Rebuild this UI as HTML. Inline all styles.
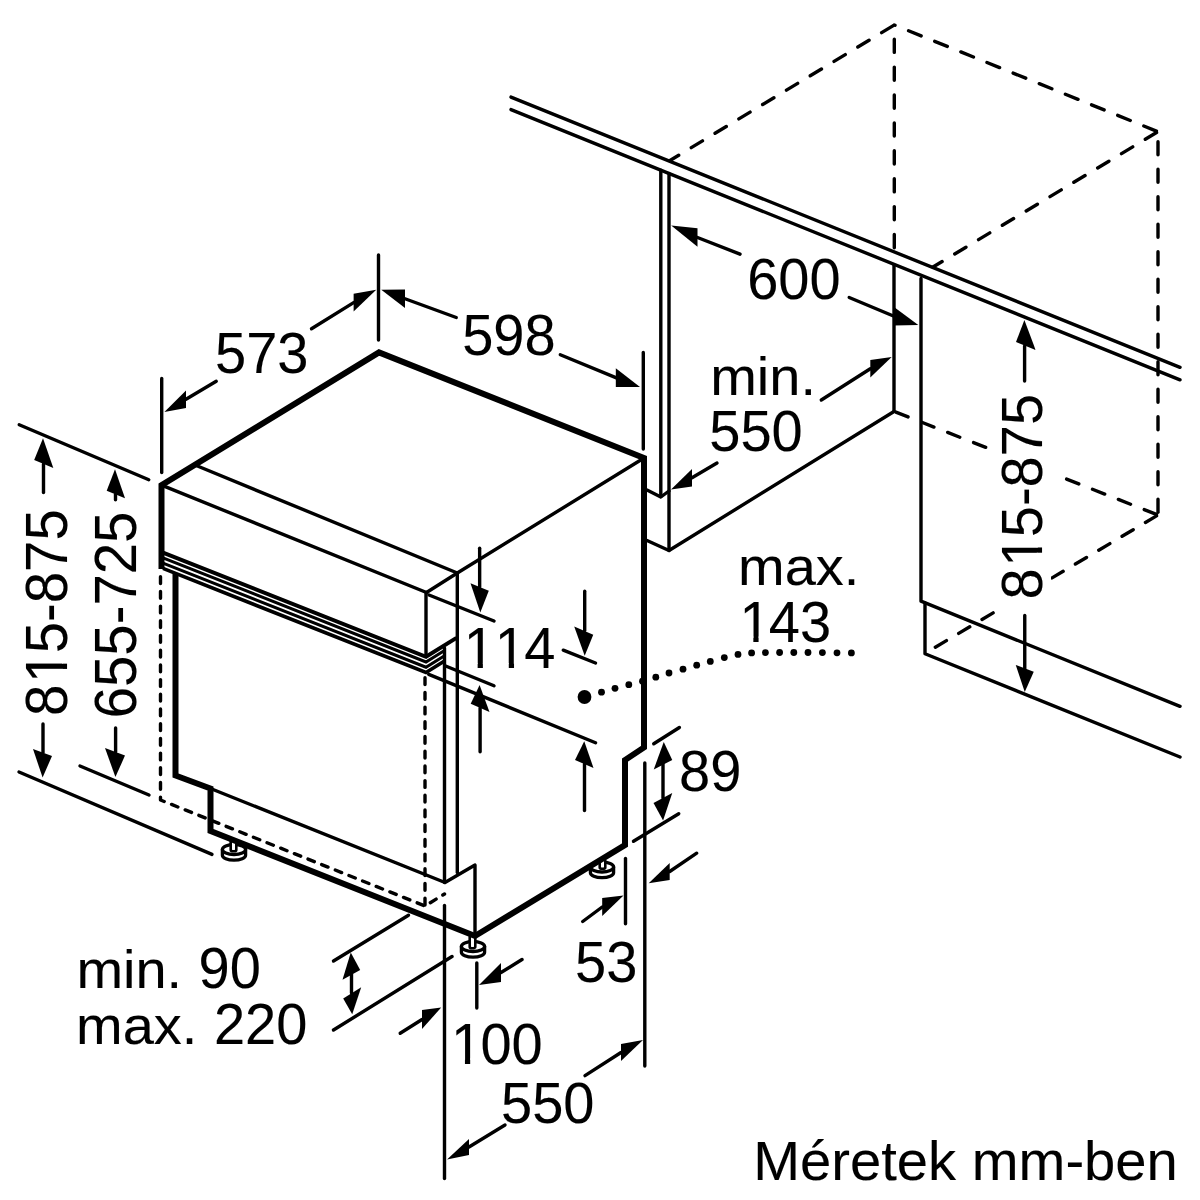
<!DOCTYPE html>
<html lang="hu">
<head>
<meta charset="utf-8">
<title>Méretek mm-ben</title>
<style>
html,body{margin:0;padding:0;background:#fff;}
body{width:1200px;height:1200px;overflow:hidden;}
svg{display:block;}
svg .f{fill:#000;stroke:none;}
svg text{fill:#000;stroke:#000;stroke-width:0.1px;font-kerning:none;}
</style>
</head>
<body>
<svg width="1200" height="1200" viewBox="0 0 1200 1200">
<rect width="1200" height="1200" fill="#fff"/>
<g fill="none" stroke="#000" stroke-width="3.4" stroke-linecap="round" font-family="'Liberation Sans', Arial, Helvetica, sans-serif" font-size="56">
<!-- countertop -->
<path d="M511 97.08 L1180 367.36"/>
<path d="M511 109.58 L1180 379.86"/>
<!-- dashed niche box -->
<path d="M894.3 25 L670 160.5" stroke-dasharray="13.1 14.7" stroke-dashoffset="26.1" stroke-linejoin="round"/>
<path d="M1158 131.7 L894.3 25" stroke-dasharray="13.6 14.6" stroke-dashoffset="26.5" stroke-linejoin="round"/>
<path d="M894.3 25 L894.3 250" stroke-dasharray="13.2 14.7" stroke-dashoffset="13.7" stroke-linejoin="round"/>
<path d="M1158 131.7 L1158 515" stroke-dasharray="13.1 14.4" stroke-dashoffset="17.5" stroke-linejoin="round"/>
<path d="M1158 131.7 L933 267" stroke-dasharray="13.1 14.7" stroke-dashoffset="26.1" stroke-linejoin="round"/>
<path d="M894.3 411.5 L995 451" stroke-dasharray="13.1 14.7" stroke-dashoffset="26.1" stroke-linejoin="round"/>
<path d="M1158 515 L1060 476.5" stroke-dasharray="13.1 14.7" stroke-dashoffset="26.1" stroke-linejoin="round"/>
<path d="M1158 515 L934 648" stroke-dasharray="12.9 14.25" stroke-dashoffset="25.45" stroke-linejoin="round"/>
<!-- cabinet -->
<path d="M660.8 170.1 L660.8 496.5"/>
<path d="M669 173.42 L669 550.5"/>
<path d="M647 490 L660.8 497 L669 491" stroke-linejoin="round"/>
<path d="M647 540.5 L669 550.5 L894 411.5" stroke-linejoin="round"/>
<path d="M894 265 L894 411.5" stroke-linecap="butt"/>
<path d="M921 278.5 L921 601.2 L1180 706.3" stroke-linejoin="round"/>
<path d="M925 603 L925 653.75 L1180 757" stroke-linejoin="round"/>
<!-- feet -->
<path d="M222.4 849.5 v5.7 a11.6 5 0 0 0 23.2 0 v-5.7" fill="#fff" stroke-width="3.3"/>
<ellipse cx="234" cy="849.5" rx="11.6" ry="5" fill="#fff" stroke-width="3.3"/>
<path d="M230.7 841 V849.9 a2.8 1.4 0 0 0 5.6 0 V841" fill="#fff" stroke-width="2.6"/>
<path d="M461.4 946.5 v5.7 a11.6 5 0 0 0 23.2 0 v-5.7" fill="#fff" stroke-width="3.3"/>
<ellipse cx="473" cy="946.5" rx="11.6" ry="5" fill="#fff" stroke-width="3.3"/>
<path d="M469.7 937 V946.9 a2.8 1.4 0 0 0 5.6 0 V937" fill="#fff" stroke-width="2.6"/>
<path d="M590.4 867 v5.7 a11.6 5 0 0 0 23.2 0 v-5.7" fill="#fff" stroke-width="3.3"/>
<ellipse cx="602" cy="867" rx="11.6" ry="5" fill="#fff" stroke-width="3.3"/>
<path d="M599.7 861 V867.4 a2.8 1.4 0 0 0 5.6 0 V861" fill="#fff" stroke-width="2.6"/>
<!-- appliance -->
<path d="M161.5 569 L161.5 485.1 L379 352.4 L644 458 L644 747.5 L625 760 L625 845 L475 936 L210.5 831 L210.5 788.5 L175.5 775.5 L175.5 574" stroke-width="6" stroke-linecap="butt"/>
<path d="M161.5 485.1 L426.5 592.5"/>
<path d="M195 465 L457.3 573"/>
<path d="M426.5 592.5 L457.3 573 L644 458" stroke-linejoin="round"/>
<path d="M426 592.5 L426 656"/>
<path d="M457.3 573 L457.3 872.5"/>
<path d="M444.5 648 L444.5 882.5"/>
<path d="M444.5 905.5 L444.5 1178.5"/>
<path d="M210.5 788.5 L445 882.5 L475 865 L475 936" stroke-linejoin="round"/>
<path d="M163 552.6 L426 656.75 L456.5 637.84" stroke-width="4" stroke-linecap="butt"/>
<path d="M163 557.85 L426 662 L444.5 650.53" stroke-width="3.1" stroke-linecap="butt"/>
<path d="M163 563.1 L426 667.25 L444.5 655.78" stroke-width="3.1" stroke-linecap="butt"/>
<path d="M163 568.35 L426 672.5 L444.5 661.03" stroke-width="3.7" stroke-linecap="butt"/>
<!-- dashed door outline -->
<path d="M160.5 575 L160.5 800 L425 906 L444.5 894" stroke-dasharray="6.8 7.9" stroke-dashoffset="13" stroke-linejoin="round"/>
<path d="M425 676 L425 906" stroke-dasharray="6.8 7.9" stroke-dashoffset="13" stroke-linejoin="round"/>
<!-- extension lines -->
<path d="M378.5 255 L378.5 340"/>
<path d="M161.7 378.5 L161.7 472.5"/>
<path d="M643.3 352.5 L643.3 449"/>
<path d="M19.2 424.7 L148.8 479.7"/>
<path d="M19 772 L212 854.4"/>
<path d="M80 766 L149 795"/>
<path d="M644.8 763 L644.8 1066"/>
<path d="M625.5 858.5 L625.5 923.7"/>
<path d="M476.8 963 L476.8 1008"/>
<path d="M429 595 L494 621"/>
<path d="M445 665.8 L494 685.8"/>
<path d="M428.75 674.4 L595.5 742.75"/>
<path d="M563.25 650.2 L595.5 663"/>
<path d="M653.75 743.75 L679.4 727.5"/>
<path d="M633.5 841.25 L678.75 813.75"/>
<path d="M333.5 961 L408.5 915.2"/>
<path d="M333.5 1030 L452 956.5"/>
<!-- dimension arrows -->
<polygon class="f" points="376.25,289.75 353.6,293.75 353.6,311.5"/>
<path d="M353.6 302.62 L311.5 328.75"/>
<polygon class="f" points="164.4,411.9 186,390.6 186,408"/>
<path d="M186 399.3 L216.25 381.25"/>
<polygon class="f" points="381.25,289.75 405,289.5 405,308"/>
<path d="M405 298.75 L456.25 317.5"/>
<polygon class="f" points="640,387 615.8,368.3 615.8,387"/>
<path d="M615.8 377.65 L560.3 354.7"/>
<polygon class="f" points="671.2,225.6 697.5,228.3 697.5,246.7"/>
<path d="M697.5 237.5 L740 254.2"/>
<polygon class="f" points="918.3,325 894,307 894,325.5"/>
<path d="M894 316.25 L849.2 297.5"/>
<polygon class="f" points="891.7,357 870.3,360 870.3,377.5"/>
<path d="M870.3 368.75 L821.3 400"/>
<polygon class="f" points="671,489.5 692,469 692,486.5"/>
<path d="M692 477.75 L717 463"/>
<polygon class="f" points="43,438.3 34.2,460 53.3,468"/>
<path d="M43.5 464 L43.5 492.5"/>
<polygon class="f" points="42.6,777.6 33,749 52,756"/>
<path d="M43 752.5 L43 724"/>
<polygon class="f" points="115,469.2 106.7,490.8 125,498.3"/>
<path d="M115.5 494.55 L115.5 499.7"/>
<polygon class="f" points="115.4,777 105,748 125,755.6"/>
<path d="M115.6 751.8 L115.6 728"/>
<polygon class="f" points="1024.4,320 1016,342 1035.6,350"/>
<path d="M1024.6 346 L1024.6 381"/>
<polygon class="f" points="1024.75,692 1015.75,665 1033.75,671.75"/>
<path d="M1024.75 668.38 L1024.75 615.5"/>
<polygon class="f" points="480.3,612.5 470.5,583.3 488.8,590.8"/>
<path d="M479.65 587.05 L479.65 548.3"/>
<polygon class="f" points="479.6,685 470.7,703.75 489.5,712"/>
<path d="M480.1 707.88 L480.1 751.7"/>
<polygon class="f" points="584.7,655.75 574.2,626.5 593.25,634.75"/>
<path d="M584.7 630.62 L584.7 591.25"/>
<polygon class="f" points="584.25,741.25 575,760 593.5,768"/>
<path d="M584.5 764 L584.5 810.5"/>
<polygon class="f" points="663.75,741.9 653.75,769.4 672.25,760"/>
<polygon class="f" points="663.1,820.6 653.5,803.1 672.25,793.1"/>
<path d="M663 764 L663 798"/>
<polygon class="f" points="648.7,883.3 669.7,863 669.7,880"/>
<path d="M669.7 871.5 L696.7 853.2"/>
<polygon class="f" points="623.5,895.5 602.2,898 602.2,916"/>
<path d="M602.2 907 L582.7 921.5"/>
<polygon class="f" points="479,985 501,963 501,982"/>
<path d="M501 972.5 L522 959.5"/>
<polygon class="f" points="441.2,1007.5 422,1010 422,1029"/>
<path d="M422 1019.5 L400.2 1033.3"/>
<polygon class="f" points="447,1159.6 469,1139 469,1155"/>
<path d="M469 1147 L505 1125"/>
<polygon class="f" points="643,1040 621,1044 621,1061"/>
<path d="M621 1052.5 L585 1075.6"/>
<polygon class="f" points="350.75,952.5 342.5,979.7 360.2,970"/>
<polygon class="f" points="352.2,1014.2 343.2,998.5 361.2,987.2"/>
<path d="M351.5 974 L351.5 993"/>
<!-- labels -->
<text transform="translate(215 373.2) scale(1 1.04)">573</text>
<text transform="translate(462.2 354.5) scale(1 1.04)">598</text>
<text transform="translate(747.2 298.7) scale(1 1.04)">600</text>
<text transform="translate(710.2 394.6) scale(1 0.965)">min.</text>
<text transform="translate(709.3 451) scale(1 1.04)">550</text>
<text transform="translate(738 584.7) scale(1 0.965)">max.</text>
<text transform="translate(737.7 641.9) scale(1 1.04)" dx="1.7 -1.7 0">143</text>
<rect transform="translate(737.7 641.9) scale(1 1.04)" x="4.57" y="-5.2" width="11.07" height="7" fill="#fff" stroke="none"/>
<rect transform="translate(737.7 641.9) scale(1 1.04)" x="20.88" y="-5.2" width="10.63" height="7" fill="#fff" stroke="none"/>
<text transform="translate(462 668.4) scale(1 1.04)" dx="1.7 0 -1.7">114</text>
<rect transform="translate(462 668.4) scale(1 1.04)" x="4.57" y="-5.2" width="11.07" height="7" fill="#fff" stroke="none"/>
<rect transform="translate(462 668.4) scale(1 1.04)" x="20.88" y="-5.2" width="10.63" height="7" fill="#fff" stroke="none"/>
<rect transform="translate(462 668.4) scale(1 1.04)" x="35.71" y="-5.2" width="11.07" height="7" fill="#fff" stroke="none"/>
<rect transform="translate(462 668.4) scale(1 1.04)" x="52.03" y="-5.2" width="10.63" height="7" fill="#fff" stroke="none"/>
<text transform="translate(679 790.7) scale(1 1.04)">89</text>
<text transform="translate(575 981.8) scale(1 1.04)">53</text>
<text transform="translate(449.3 1063.8) scale(1 1.04)" dx="1.7 -1.7 0">100</text>
<rect transform="translate(449.3 1063.8) scale(1 1.04)" x="4.57" y="-5.2" width="11.07" height="7" fill="#fff" stroke="none"/>
<rect transform="translate(449.3 1063.8) scale(1 1.04)" x="20.88" y="-5.2" width="10.63" height="7" fill="#fff" stroke="none"/>
<text transform="translate(501 1122.5) scale(1 1.04)">550</text>
<text transform="translate(76.4 987.5) scale(1 0.965)">min.</text>
<text transform="translate(198.5 987.5) scale(1 1.04)">90</text>
<text transform="translate(76.1 1044) scale(1 0.965)">max.</text>
<text transform="translate(213.9 1044) scale(1 1.04)">220</text>
<text transform="translate(753.2 1180.3)" font-size="56.2">Méretek mm-ben</text>
<text transform="translate(67.4 716) rotate(-90) scale(1 1.04)" font-size="56.35" dx="0 1.7 -1.7 0 0 0 0">815-875</text>
<rect transform="translate(67.4 716) rotate(-90) scale(1 1.04)" x="35.93" y="-5.2" width="11.13" height="7" fill="#fff" stroke="none"/>
<rect transform="translate(67.4 716) rotate(-90) scale(1 1.04)" x="52.34" y="-5.2" width="10.69" height="7" fill="#fff" stroke="none"/>
<text transform="translate(136.3 718.3) rotate(-90) scale(1 1.04)" font-size="56.35">655-725</text>
<rect x="999" y="392" width="52" height="220" fill="#fff" stroke="none"/>
<text transform="translate(1042.2 599.5) rotate(-90) scale(1 1.04)" dx="0 1.7 -1.7 0 0 0 0">815-875</text>
<rect transform="translate(1042.2 599.5) rotate(-90) scale(1 1.04)" x="35.71" y="-5.2" width="11.07" height="7" fill="#fff" stroke="none"/>
<rect transform="translate(1042.2 599.5) rotate(-90) scale(1 1.04)" x="52.03" y="-5.2" width="10.63" height="7" fill="#fff" stroke="none"/>
<!-- max. 143 dotted curve -->
<circle class="f" cx="584.5" cy="697" r="6.9"/>
<circle class="f" cx="601.5" cy="692.2" r="3.4"/>
<circle class="f" cx="615" cy="688.3" r="3.4"/>
<circle class="f" cx="628.8" cy="684.7" r="3.4"/>
<circle class="f" cx="642.5" cy="681.2" r="3.4"/>
<circle class="f" cx="655.8" cy="677.2" r="3.4"/>
<circle class="f" cx="669" cy="673" r="3.4"/>
<circle class="f" cx="683" cy="669.2" r="3.4"/>
<circle class="f" cx="696.7" cy="665.2" r="3.4"/>
<circle class="f" cx="710.3" cy="661.4" r="3.4"/>
<circle class="f" cx="724.3" cy="657.6" r="3.4"/>
<circle class="f" cx="738" cy="654.4" r="3.4"/>
<circle class="f" cx="751.6" cy="652.9" r="3.4"/>
<circle class="f" cx="765.4" cy="652.6" r="3.4"/>
<circle class="f" cx="779.6" cy="652.5" r="3.4"/>
<circle class="f" cx="793.8" cy="652.5" r="3.4"/>
<circle class="f" cx="808" cy="652.5" r="3.4"/>
<circle class="f" cx="822.4" cy="652.6" r="3.4"/>
<circle class="f" cx="837" cy="652.8" r="3.4"/>
<circle class="f" cx="851.4" cy="652.9" r="3.4"/>
</g>
</svg>
</body>
</html>
